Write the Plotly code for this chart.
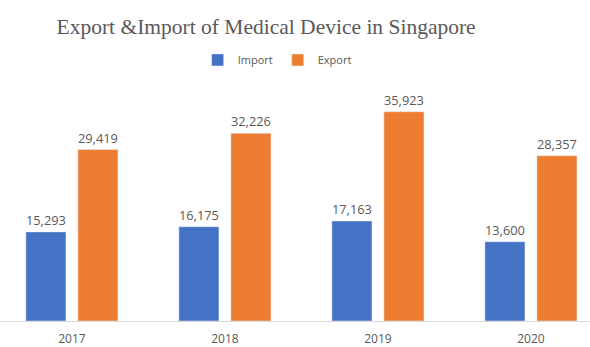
import plotly.graph_objects as go

years = ["2017", "2018", "2019", "2020"]
imports = [15293, 16175, 17163, 13600]
exports = [29419, 32226, 35923, 28357]

BLUE = "#4472C4"
ORANGE = "#ED7D31"
GRAY = "#595959"

label_font = dict(family="Open Sans", size=13, color=GRAY)

fig = go.Figure()
fig.add_trace(go.Bar(name="Import", x=years, y=imports, marker_color=BLUE,
                     texttemplate="%{y:,}", textposition="outside",
                     outsidetextfont=label_font, cliponaxis=False))
fig.add_trace(go.Bar(name="Export", x=years, y=exports, marker_color=ORANGE,
                     texttemplate="%{y:,}", textposition="outside",
                     outsidetextfont=label_font, cliponaxis=False))

fig.update_layout(
    width=590, height=347,
    margin=dict(l=0, r=0, t=70, b=24),
    paper_bgcolor="white", plot_bgcolor="white",
    barmode="group", bargap=0.32, bargroupgap=0.23,
    uniformtext=dict(mode=False),
    title=dict(text="Export &Import of Medical Device in Singapore",
               x=0.451, xanchor="center", y=0.925, yanchor="middle",
               font=dict(family="Liberation Serif", size=21.5, color=GRAY)),
    legend=dict(orientation="h", x=0.335, xanchor="left", y=1.04, yanchor="middle",
                font=dict(family="Open Sans", size=11, color=GRAY),
                itemwidth=30, tracegroupgap=0),
    showlegend=True,
)
fig.update_xaxes(type="category", range=[-0.47, 3.386], showline=True,
                 linecolor="#D9D9D9", linewidth=1, ticks="",
                 tickfont=dict(family="Open Sans", size=12, color=GRAY),
                 ticklabelstandoff=7)
fig.update_yaxes(range=[0, 43075], showticklabels=False, showline=False,
                 showgrid=False, zeroline=False, ticks="")

fig.write_html("out.html")
